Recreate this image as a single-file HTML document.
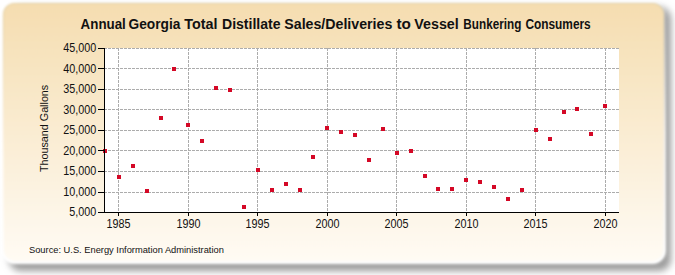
<!DOCTYPE html>
<html><head><meta charset="utf-8"><style>
html,body{margin:0;padding:0;background:#fff;width:675px;height:275px;overflow:hidden}
svg{display:block;font-family:"Liberation Sans",sans-serif}
.g{fill:none;stroke:#acacac;stroke-width:1;stroke-dasharray:3,1;shape-rendering:crispEdges}
.a{fill:none;stroke:#000;stroke-width:1;shape-rendering:crispEdges}
.p{fill:#d40826;shape-rendering:crispEdges}
.yl{font-size:12px;fill:#111}
.xl{font-size:12.4px;fill:#111}
</style></head><body>
<svg width="675" height="275" viewBox="0 0 675 275">
<defs>
<linearGradient id="bg" x1="0" y1="0" x2="0" y2="1">
<stop offset="0" stop-color="#f5ddb0"/>
<stop offset="1" stop-color="#fffbf4"/>
</linearGradient>
<linearGradient id="bd" x1="0" y1="0" x2="0" y2="1">
<stop offset="0" stop-color="#e8d4a8"/>
<stop offset="0.6" stop-color="#fff4e4"/>
<stop offset="1" stop-color="#ffffff"/>
</linearGradient>
<linearGradient id="gl" x1="0" y1="0" x2="0" y2="1">
<stop offset="0" stop-color="#fff" stop-opacity="0.2"/>
<stop offset="0.5" stop-color="#fff" stop-opacity="0.8"/>
<stop offset="1" stop-color="#fff" stop-opacity="1"/>
</linearGradient>
<filter id="sh" x="-5%" y="-10%" width="115%" height="125%">
<feGaussianBlur stdDeviation="3.5"/>
</filter>
<filter id="glow" x="-3%" y="-3%" width="106%" height="106%"><feGaussianBlur stdDeviation="1.6"/></filter>
<filter id="soft" x="-2%" y="-2%" width="104%" height="104%">
<feGaussianBlur stdDeviation="0.8"/>
</filter>
</defs>
<rect x="9" y="7" width="662" height="264" rx="12" fill="#9c9c9c" filter="url(#sh)"/>
<rect x="3.5" y="3.5" width="660" height="258" rx="11" fill="none" stroke="url(#gl)" stroke-width="5" filter="url(#glow)"/>
<rect x="3.5" y="3.5" width="660" height="258" rx="11" fill="url(#bg)" stroke="url(#bd)" stroke-width="1.2" filter="url(#soft)"/>
<rect x="104" y="48" width="515" height="164" fill="#fff"/>
<path d="M104 212.5H619 M104 192.5H619 M104 171.5H619 M104 150.5H619 M104 130.5H619 M104 109.5H619 M104 89.5H619 M104 68.5H619 M104 48.5H619" class="g"/>
<path d="M118.5 48V212 M188.5 48V212 M257.5 48V212 M327.5 48V212 M396.5 48V212 M466.5 48V212 M535.5 48V212 M605.5 48V212" class="g"/>
<rect x="103" y="149" width="4" height="4" class="p"/>
<rect x="117" y="175" width="4" height="4" class="p"/>
<rect x="131" y="164" width="4" height="4" class="p"/>
<rect x="145" y="189" width="4" height="4" class="p"/>
<rect x="159" y="116" width="4" height="4" class="p"/>
<rect x="172" y="67" width="4" height="4" class="p"/>
<rect x="186" y="123" width="4" height="4" class="p"/>
<rect x="200" y="139" width="4" height="4" class="p"/>
<rect x="214" y="86" width="4" height="4" class="p"/>
<rect x="228" y="88" width="4" height="4" class="p"/>
<rect x="242" y="205" width="4" height="4" class="p"/>
<rect x="256" y="168" width="4" height="4" class="p"/>
<rect x="270" y="188" width="4" height="4" class="p"/>
<rect x="284" y="182" width="4" height="4" class="p"/>
<rect x="298" y="188" width="4" height="4" class="p"/>
<rect x="311" y="155" width="4" height="4" class="p"/>
<rect x="325" y="126" width="4" height="4" class="p"/>
<rect x="339" y="130" width="4" height="4" class="p"/>
<rect x="353" y="133" width="4" height="4" class="p"/>
<rect x="367" y="158" width="4" height="4" class="p"/>
<rect x="381" y="127" width="4" height="4" class="p"/>
<rect x="395" y="151" width="4" height="4" class="p"/>
<rect x="409" y="149" width="4" height="4" class="p"/>
<rect x="423" y="174" width="4" height="4" class="p"/>
<rect x="436" y="187" width="4" height="4" class="p"/>
<rect x="450" y="187" width="4" height="4" class="p"/>
<rect x="464" y="178" width="4" height="4" class="p"/>
<rect x="478" y="180" width="4" height="4" class="p"/>
<rect x="492" y="185" width="4" height="4" class="p"/>
<rect x="506" y="197" width="4" height="4" class="p"/>
<rect x="520" y="188" width="4" height="4" class="p"/>
<rect x="534" y="128" width="4" height="4" class="p"/>
<rect x="548" y="137" width="4" height="4" class="p"/>
<rect x="562" y="110" width="4" height="4" class="p"/>
<rect x="575" y="107" width="4" height="4" class="p"/>
<rect x="589" y="132" width="4" height="4" class="p"/>
<rect x="603" y="104" width="4" height="4" class="p"/>
<path d="M104.5 48V213 M104 212.5H619 M98 212.5H104 M98 192.5H104 M98 171.5H104 M98 150.5H104 M98 130.5H104 M98 109.5H104 M98 89.5H104 M98 68.5H104 M98 48.5H104 M118.5 213V216 M188.5 213V216 M257.5 213V216 M327.5 213V216 M396.5 213V216 M466.5 213V216 M535.5 213V216 M605.5 213V216" class="a"/>
<text transform="translate(96.2,215.5) scale(0.9,1)" text-anchor="end" class="yl">5,000</text>
<text transform="translate(96.2,195.5) scale(0.9,1)" text-anchor="end" class="yl">10,000</text>
<text transform="translate(96.2,174.5) scale(0.9,1)" text-anchor="end" class="yl">15,000</text>
<text transform="translate(96.2,154.5) scale(0.9,1)" text-anchor="end" class="yl">20,000</text>
<text transform="translate(96.2,133.5) scale(0.9,1)" text-anchor="end" class="yl">25,000</text>
<text transform="translate(96.2,113.5) scale(0.9,1)" text-anchor="end" class="yl">30,000</text>
<text transform="translate(96.2,92.5) scale(0.9,1)" text-anchor="end" class="yl">35,000</text>
<text transform="translate(96.2,72.5) scale(0.9,1)" text-anchor="end" class="yl">40,000</text>
<text transform="translate(96.2,51.5) scale(0.9,1)" text-anchor="end" class="yl">45,000</text>
<text transform="translate(118.6,227.9) scale(0.87,1)" text-anchor="middle" class="xl">1985</text>
<text transform="translate(188.6,227.9) scale(0.87,1)" text-anchor="middle" class="xl">1990</text>
<text transform="translate(257.6,227.9) scale(0.87,1)" text-anchor="middle" class="xl">1995</text>
<text transform="translate(327.6,227.9) scale(0.87,1)" text-anchor="middle" class="xl">2000</text>
<text transform="translate(396.6,227.9) scale(0.87,1)" text-anchor="middle" class="xl">2005</text>
<text transform="translate(466.6,227.9) scale(0.87,1)" text-anchor="middle" class="xl">2010</text>
<text transform="translate(535.6,227.9) scale(0.87,1)" text-anchor="middle" class="xl">2015</text>
<text transform="translate(605.6,227.9) scale(0.87,1)" text-anchor="middle" class="xl">2020</text>
<g font-weight="bold" font-size="14" fill="#111"><text x="80.60" y="28.8" textLength="45.23" lengthAdjust="spacingAndGlyphs">Annual</text><text x="128.52" y="28.8" textLength="51.89" lengthAdjust="spacingAndGlyphs">Georgia</text><text x="184.20" y="28.8" textLength="33.22" lengthAdjust="spacingAndGlyphs">Total</text><text x="222.00" y="28.8" textLength="58.46" lengthAdjust="spacingAndGlyphs">Distillate</text><text x="284.29" y="28.8" textLength="108.06" lengthAdjust="spacingAndGlyphs">Sales/Deliveries</text><text x="396.50" y="28.8" textLength="14.44" lengthAdjust="spacingAndGlyphs">to</text><text x="414.30" y="28.8" textLength="44.42" lengthAdjust="spacingAndGlyphs">Vessel</text><text x="463.36" y="28.8" textLength="57.93" lengthAdjust="spacingAndGlyphs">Bunkering</text><text x="525.45" y="28.8" textLength="65.27" lengthAdjust="spacingAndGlyphs">Consumers</text></g>
<text transform="translate(47.5,128.4) rotate(-90)" text-anchor="middle" font-size="10.75" fill="#111">Thousand Gallons</text>
<text x="29" y="253" font-size="9.3" fill="#111">Source: U.S. Energy Information Administration</text>
</svg>
</body></html>
